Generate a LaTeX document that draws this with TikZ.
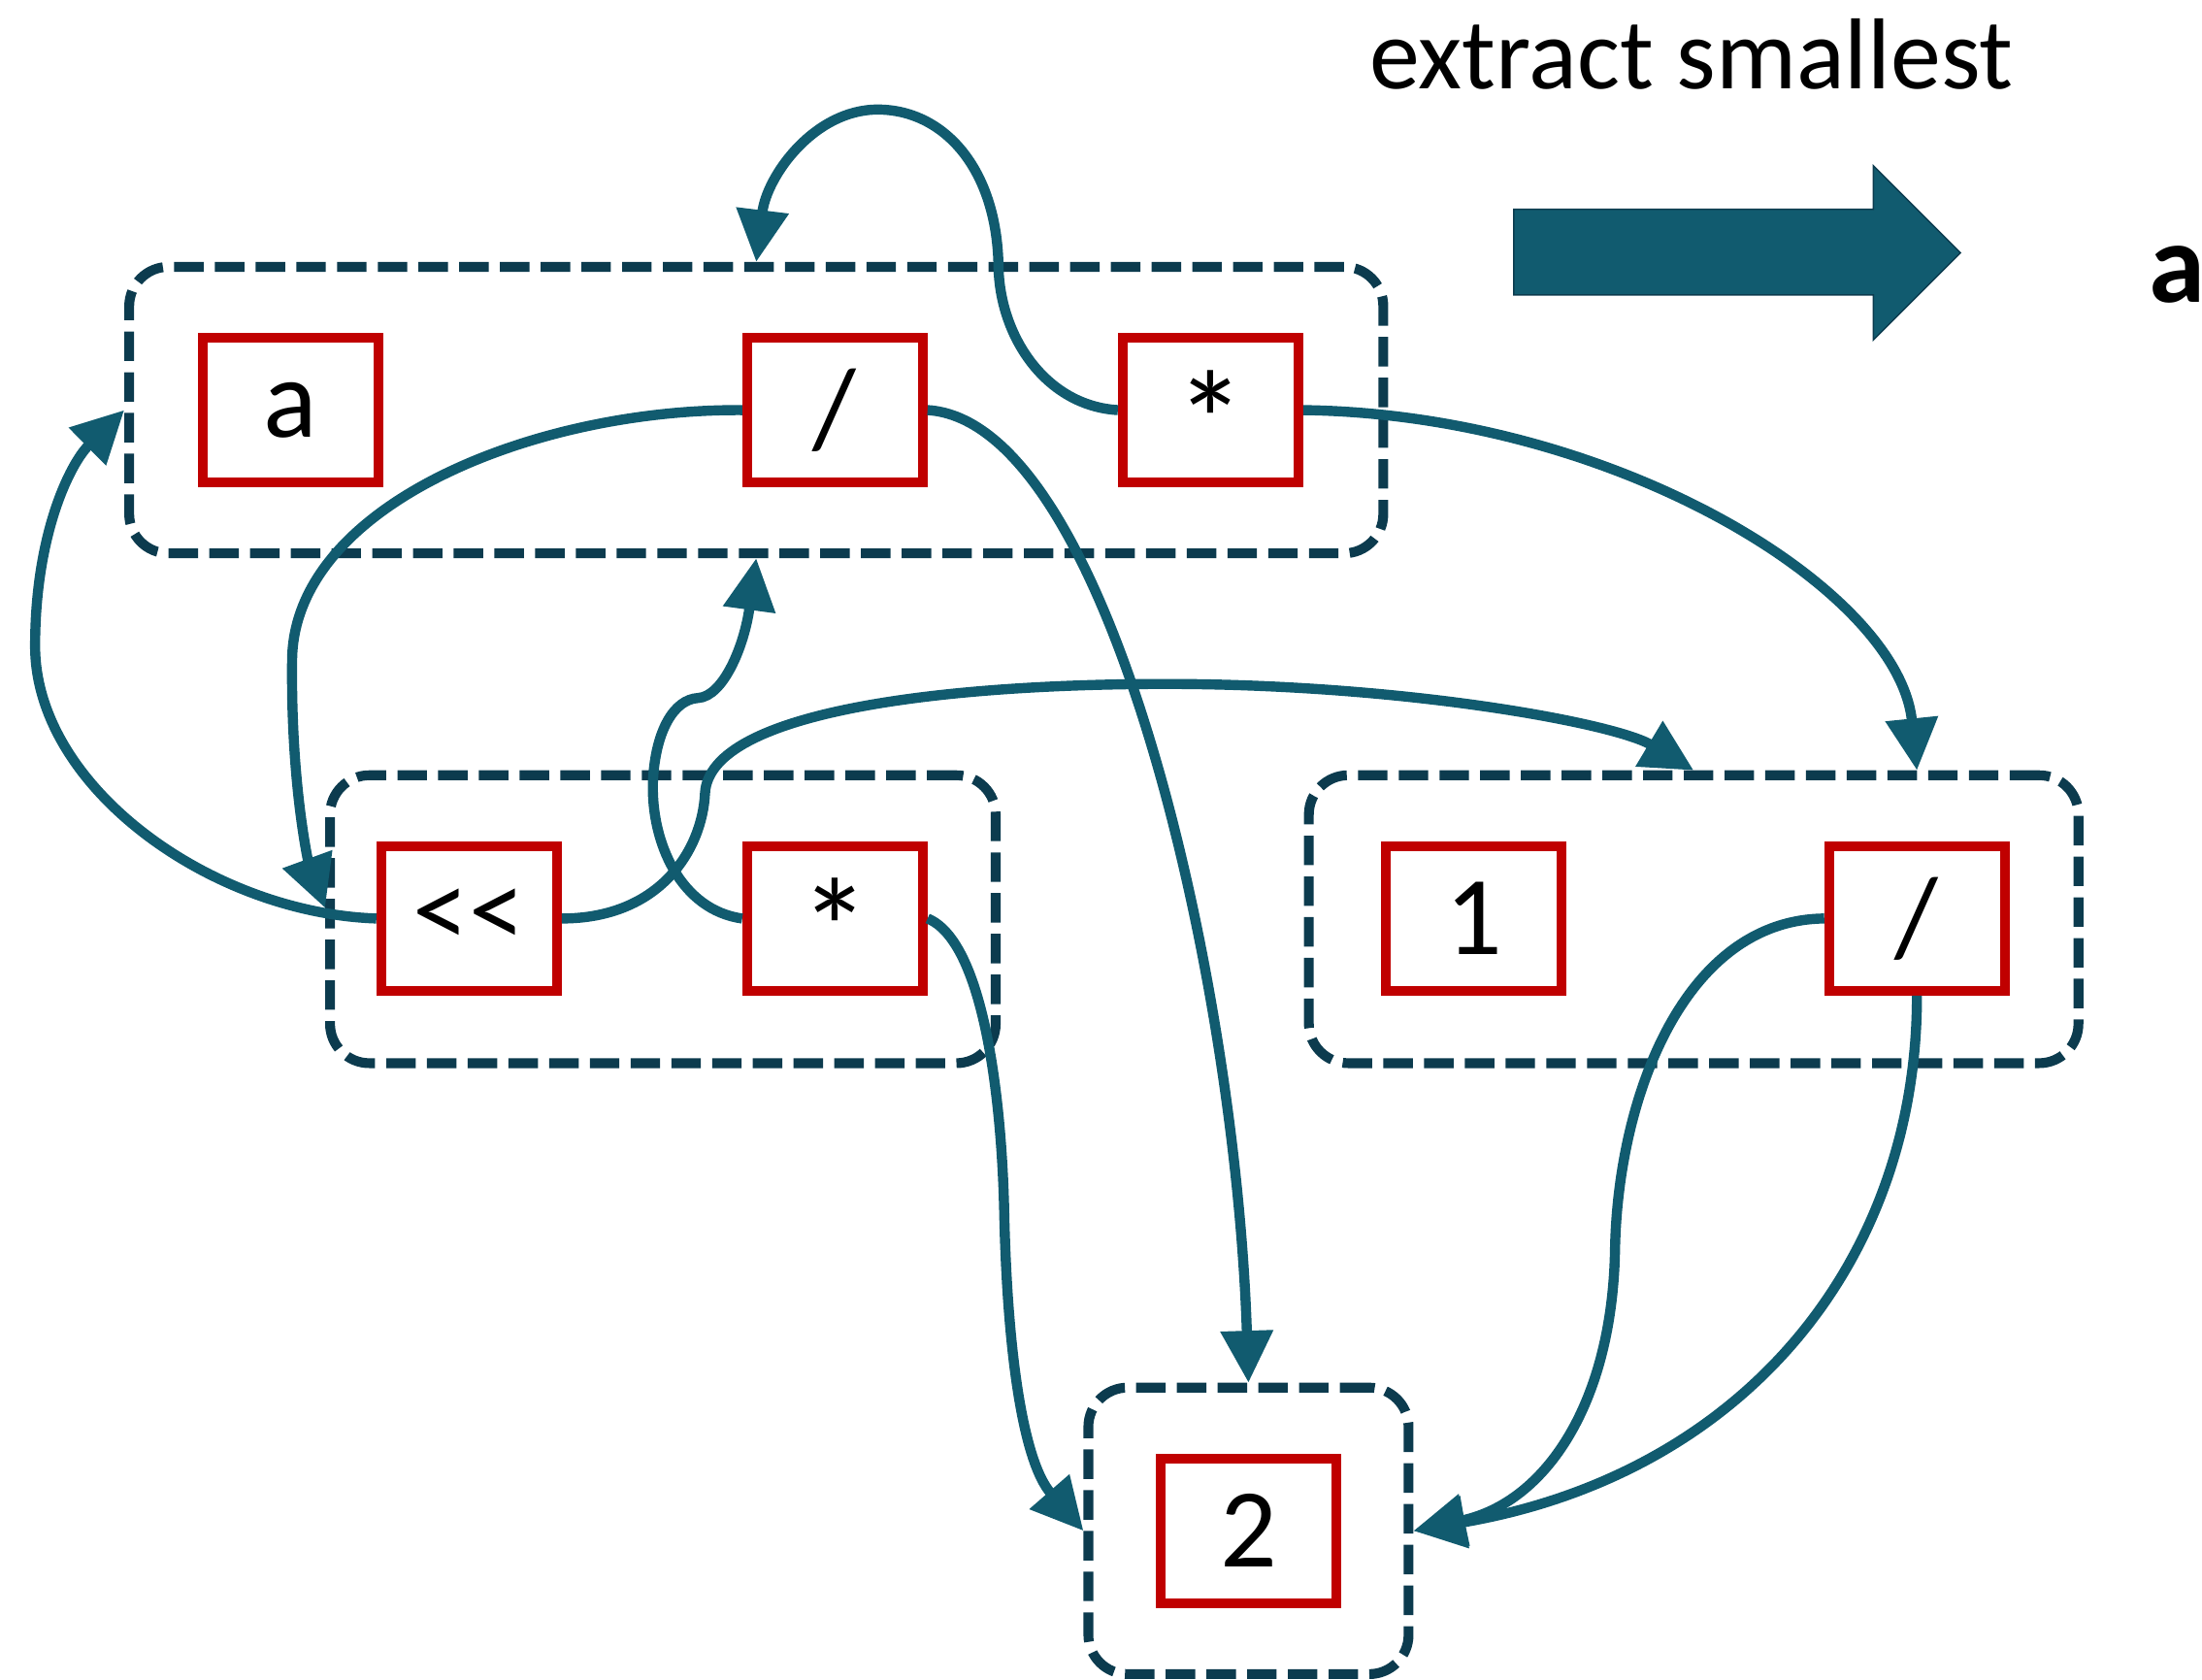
\documentclass[tikz,border=0pt]{standalone}
\usepackage{fontspec}
\setmainfont{Carlito}
\usetikzlibrary{arrows.meta}
\definecolor{linkc}{HTML}{115B6F}
\definecolor{framec}{HTML}{0C3B4E}
\definecolor{boxred}{HTML}{C00000}
% a larger asterisk, sitting a little above the middle of its cell
\newcommand{\bigast}{\raisebox{-17pt}[51pt][0pt]{\fontsize{100}{100}\selectfont *}}
\begin{document}
\begin{tikzpicture}[x=1pt,y=-1pt,
  item/.style={draw=boxred, line width=7pt, minimum width=125pt, minimum height=103pt,
               inner sep=0pt, font=\fontsize{80}{96}\selectfont},
  group/.style={draw=framec, line width=7pt, dash pattern=on 21pt off 8pt,
                rounded corners=28pt, inner sep=0pt},
  conn/.style={draw=linkc, line width=7.2pt, -{Triangle[length=37pt,width=36pt]}},
]
\useasboundingbox (0,0) rectangle (1568,1196);

% dashed groups
\node[group, minimum width=893pt, minimum height=204pt] (G1) at (538.5,292) {};
\node[group, minimum width=474pt, minimum height=205pt] (G2) at (472,654.5) {};
\node[group, minimum width=548pt, minimum height=205pt] (G3) at (1206,654.5) {};
\node[group, minimum width=228pt, minimum height=204pt] (G4) at (889,1090) {};

% cells
\node[item] (a)   at (207,292)   {a};
\node[item] (d1)  at (594.5,292) {/};
\node[item] (m1)  at (862,292)   {\bigast};
\node[item] (sh)  at (334,654)   {<{}<};
\node[item] (m2)  at (594.5,654) {\bigast};
\node[item] (one) at (1049.5,654){1};
\node[item] (d2)  at (1365,654)  {/};
\node[item] (two) at (889,1090)  {2};

% connectors
\draw[conn] (m1.west) .. controls (745,289) and (712,240) .. (711,190)
            .. controls (710,120) and (672,78) .. (625,78)
            .. controls (580,78) and (546,125) .. (G1.north);
\draw[conn] (d1.west) .. controls (380,291) and (209,360) .. (208,470)
            .. controls (207,560) and (220,615) .. ([yshift=8pt]G2.west);
\draw[conn] (d1.east) .. controls (790,300) and (880,700) .. (G4.north);
\draw[conn] (m1.east) .. controls (1150,295) and (1352,420) .. (d2.north |- G3.north);
\draw[conn] (sh.west) .. controls (150,650) and (25,560) .. (25,460)
            .. controls (25,380) and (50,330) .. (G1.west);
\draw[conn] (sh.east) .. controls (470,654) and (500,605) .. (502,565)
            .. controls (505,505) and (680,487) .. (830,487)
            .. controls (1000,487) and (1150,515) .. (G3.north);
\draw[conn] (m2.west) .. controls (485,648) and (463,600) .. (465,555)
            .. controls (467,520) and (480,498) .. (497,497)
            .. controls (515,496) and (530,460) .. (G1.south);
\draw[conn] (m2.east) .. controls (700,670) and (713,780) .. (715,860)
            .. controls (717,960) and (728,1040) .. (G4.west);
\draw[conn] (d2.west) .. controls (1200,655) and (1152,780) .. (1150,890)
            .. controls (1148,1000) and (1100,1070) .. (G4.east);
\draw[conn] (d2.south) .. controls (1365,900) and (1240,1050) .. (G4.east);

% block arrow and labels
\fill[linkc, draw=framec, line width=1pt] (1078,149) -- (1334,149) -- (1334,118) -- (1396,180)
      -- (1334,242) -- (1334,210) -- (1078,210) -- cycle;
\node[anchor=base west, inner sep=0pt, font=\fontsize{71.8}{86}\selectfont] (title) at (975,63) {extract smallest};
\node[anchor=base west, inner sep=0pt, font=\bfseries\fontsize{81}{97}\selectfont] (out) at (1530,215) {a};
\end{tikzpicture}
\end{document}
